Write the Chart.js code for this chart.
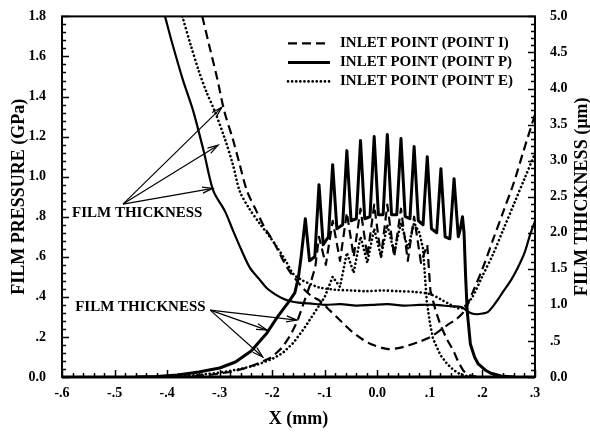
<!DOCTYPE html>
<html>
<head>
<meta charset="utf-8">
<script src="https://cdn.jsdelivr.net/npm/chart.js@4/dist/chart.umd.min.js"></script>
<style>
  html, body { margin: 0; padding: 0; background: #fff; }
</style>
</head>
<body>
<canvas id="myChart" width="590" height="432"></canvas>
<script>
// film pressure (GPa), left axis
const xPressI = [-0.40, -0.36, -0.32, -0.28, -0.25, -0.22, -0.20, -0.18, -0.165, -0.152, -0.14, -0.128, -0.118,
  -0.111, -0.098, -0.085, -0.071, -0.058, -0.045, -0.032, -0.019, -0.006, 0.007, 0.019, 0.032, 0.045, 0.058, 0.070, 0.083, 0.095,
  0.101, 0.11, 0.12, 0.132, 0.145, 0.155, 0.164, 0.175, 0.19];
const pressI = [0, 0.003, 0.01, 0.025, 0.045, 0.075, 0.10, 0.15, 0.21, 0.28, 0.37, 0.46, 0.55,
  0.70, 0.56, 0.78, 0.58, 0.82, 0.60, 0.84, 0.60, 0.86, 0.60, 0.86, 0.60, 0.84, 0.58, 0.80, 0.57, 0.66,
  0.43, 0.34, 0.26, 0.19, 0.13, 0.07, 0.03, 0.01, 0];

const xPressP = [-0.46, -0.42, -0.38, -0.34, -0.30, -0.27, -0.24, -0.21, -0.19, -0.17, -0.157, -0.150,
  -0.145, -0.137, -0.129,
  -0.119, -0.111, -0.103,
  -0.093, -0.085, -0.077,
  -0.066, -0.058, -0.050,
  -0.040, -0.032, -0.024,
  -0.014, -0.006, 0.002,
  0.011, 0.019, 0.027,
  0.037, 0.045, 0.053,
  0.062, 0.070, 0.078,
  0.087, 0.095, 0.103,
  0.113, 0.121, 0.129,
  0.138, 0.146, 0.154,
  0.158, 0.162, 0.165, 0.168, 0.171, 0.177, 0.185, 0.192, 0.205, 0.215, 0.235, 0.26];
const pressP = [0, 0.002, 0.01, 0.025, 0.045, 0.075, 0.13, 0.22, 0.30, 0.37, 0.42, 0.50,
  0.60, 0.79, 0.58,
  0.60, 0.96, 0.66,
  0.70, 1.06, 0.74,
  0.76, 1.13, 0.78,
  0.79, 1.18, 0.79,
  0.80, 1.20, 0.81,
  0.81, 1.21, 0.81,
  0.81, 1.19, 0.80,
  0.79, 1.15, 0.78,
  0.76, 1.10, 0.74,
  0.72, 1.04, 0.70,
  0.69, 0.99, 0.70,
  0.74, 0.80, 0.72, 0.50, 0.33, 0.165, 0.10, 0.065, 0.035, 0.02, 0.005, 0];

const xPressE = [-0.42, -0.38, -0.34, -0.30, -0.26, -0.23, -0.20, -0.18, -0.16, -0.14, -0.12, -0.10,
  -0.085, -0.071, -0.058, -0.045, -0.032, -0.019, -0.006, 0.007, 0.019, 0.032, 0.045, 0.058, 0.070,
  0.080, 0.087, 0.094, 0.100, 0.106, 0.120, 0.133, 0.145, 0.157, 0.17, 0.19];
const pressE = [0, 0.003, 0.01, 0.022, 0.04, 0.06, 0.09, 0.12, 0.17, 0.24, 0.32, 0.40,
  0.50, 0.45, 0.62, 0.52, 0.70, 0.57, 0.74, 0.60, 0.76, 0.62, 0.77, 0.64, 0.77,
  0.72, 0.64, 0.38, 0.27, 0.19, 0.11, 0.065, 0.035, 0.015, 0.005, 0];

// film thickness (um), right axis
const xThickI = [-0.333, -0.32, -0.305, -0.291, -0.275, -0.262, -0.248, -0.23, -0.215, -0.198, -0.185, -0.171,
  -0.155, -0.14, -0.125, -0.108, -0.09, -0.07, -0.05, -0.03, -0.01, 0.018, 0.04, 0.06, 0.08, 0.10, 0.12,
  0.135, 0.15, 0.165, 0.18, 0.20, 0.22, 0.24, 0.26, 0.278, 0.30];
const thickI = [5.0, 4.6, 4.15, 3.68, 3.3, 2.95, 2.58, 2.3, 2.08, 1.88, 1.7, 1.51,
  1.35, 1.22, 1.12, 1.05, 0.92, 0.78, 0.64, 0.53, 0.45, 0.39, 0.40, 0.44, 0.49, 0.55, 0.65,
  0.73, 0.80, 0.91, 1.15, 1.5, 1.9, 2.3, 2.7, 3.13, 3.64];

const xThickP = [-0.404, -0.39, -0.37, -0.35, -0.33, -0.312, -0.29, -0.274, -0.258, -0.242, -0.225, -0.21,
  -0.195, -0.18, -0.165, -0.15, -0.13, -0.10, -0.07, -0.04, -0.01, 0.02, 0.05, 0.08, 0.11, 0.14, 0.16,
  0.17, 0.18, 0.19, 0.20, 0.21, 0.22, 0.23, 0.24, 0.255, 0.267, 0.28, 0.291, 0.30];
const thickP = [5.0, 4.62, 4.12, 3.68, 3.12, 2.58, 2.3, 2.02, 1.75, 1.51, 1.36, 1.23,
  1.15, 1.09, 1.05, 1.03, 1.02, 1.0, 1.01, 0.99, 1.0, 1.01, 0.99, 1.0, 1.0, 0.98, 0.97,
  0.92, 0.88, 0.87, 0.88, 0.9, 0.98, 1.08, 1.19, 1.35, 1.51, 1.72, 1.98, 2.16];

const xThickE = [-0.371, -0.355, -0.34, -0.325, -0.309, -0.29, -0.275, -0.262, -0.245, -0.223, -0.205, -0.19,
  -0.175, -0.16, -0.145, -0.128, -0.11, -0.08, -0.05, -0.02, 0.01, 0.04, 0.07, 0.10, 0.12, 0.14, 0.16,
  0.18, 0.20, 0.22, 0.24, 0.26, 0.28, 0.30];
const thickE = [5.0, 4.6, 4.25, 3.95, 3.68, 3.3, 2.95, 2.58, 2.35, 2.12, 1.95, 1.79,
  1.62, 1.43, 1.35, 1.29, 1.24, 1.21, 1.2, 1.19, 1.2, 1.19, 1.18, 1.15, 1.08, 1.0, 0.95,
  1.1, 1.4, 1.7, 2.05, 2.4, 2.75, 3.1];

const legendLabels = ["INLET POINT (POINT I)", "INLET POINT (POINT P)", "INLET POINT (POINT E)"];

const xTickValues = [-0.6, -0.5, -0.4, -0.3, -0.2, -0.1, 0, 0.1, 0.2, 0.3];
const xTickLabels = ["-.6", "-.5", "-.4", "-.3", "-.2", "-.1", "0.0", ".1", ".2", ".3"];
const yTickValues = [0, 0.2, 0.4, 0.6, 0.8, 1.0, 1.2, 1.4, 1.6, 1.8];
const yTickLabels = ["0.0", ".2", ".4", ".6", ".8", "1.0", "1.2", "1.4", "1.6", "1.8"];
const y2TickValues = [0, 0.5, 1, 1.5, 2, 2.5, 3, 3.5, 4, 4.5, 5];
const y2TickLabels = ["0.0", ".5", "1.0", "1.5", "2.0", "2.5", "3.0", "3.5", "4.0", "4.5", "5.0"];

// annotations (data coordinates, mm / GPa)
const noteText = ["FILM THICKNESS", "FILM THICKNESS"];
const noteX = [-0.581, -0.575];
const noteY = [0.818, 0.349];
const arrowFromX = [-0.484, -0.318];
const arrowFromY = [0.863, 0.334];
const arrowTipX = [[-0.296, -0.303, -0.313], [-0.153, -0.210, -0.218]];
const arrowTipY = [[1.346, 1.157, 0.942], [0.284, 0.234, 0.100]];

const FONT = '"Liberation Serif", "Times New Roman", serif';
const DASHED = [9, 5];
const DOTTED = [0.1, 4];

function pts(xs, ys) {
  return xs.map((x, i) => ({ x, y: ys[i] }));
}

function tickLabel(values, labels) {
  return (value) => {
    const i = values.findIndex((v) => Math.abs(v - value) < 1e-9);
    return i >= 0 ? labels[i] : "";
  };
}

function arrow(ctx, x0, y0, x1, y1) {
  ctx.beginPath();
  ctx.moveTo(x0, y0);
  ctx.lineTo(x1, y1);
  ctx.stroke();
  const ang = Math.atan2(y1 - y0, x1 - x0);
  const L = 11, w = 0.28;
  ctx.beginPath();
  ctx.moveTo(x1 - L * Math.cos(ang - w), y1 - L * Math.sin(ang - w));
  ctx.lineTo(x1, y1);
  ctx.lineTo(x1 - L * Math.cos(ang + w), y1 - L * Math.sin(ang + w));
  ctx.stroke();
}

const decorations = {
  id: "decorations",
  afterDatasetsDraw(chart) {
    const { ctx, chartArea: a, scales: { x, y, y2 } } = chart;
    ctx.save();
    ctx.strokeStyle = "#000";
    ctx.fillStyle = "#000";
    ctx.setLineDash([]);

    // frame
    ctx.lineWidth = 2;
    ctx.strokeRect(a.left, a.top, a.right - a.left, a.bottom - a.top);
    ctx.lineWidth = 3;
    ctx.beginPath();
    ctx.moveTo(a.left, a.bottom);
    ctx.lineTo(a.right, a.bottom);
    ctx.stroke();

    // inward ticks
    ctx.lineWidth = 1.5;
    ctx.beginPath();
    for (let i = 0; i <= 45; i++) {
      const py = Math.round(y.getPixelForValue(i * 0.04)) + 0.5;
      const len = i % 5 === 0 ? 7 : 4;
      ctx.moveTo(a.left, py);
      ctx.lineTo(a.left + len, py);
    }
    for (let i = 0; i <= 50; i++) {
      const py = Math.round(y2.getPixelForValue(i * 0.1)) + 0.5;
      const len = i % 5 === 0 ? 7 : 4;
      ctx.moveTo(a.right, py);
      ctx.lineTo(a.right - len, py);
    }
    for (let i = 0; i <= 45; i++) {
      const px = Math.round(x.getPixelForValue(-0.6 + i * 0.02)) + 0.5;
      const len = i % 5 === 0 ? 7 : 4;
      ctx.moveTo(px, a.bottom);
      ctx.lineTo(px, a.bottom - len);
    }
    ctx.stroke();

    // annotations
    ctx.font = "bold 15px " + FONT;
    ctx.textBaseline = "middle";
    ctx.textAlign = "left";
    ctx.lineWidth = 1.2;
    noteText.forEach((t, k) => {
      ctx.fillText(t, x.getPixelForValue(noteX[k]), y.getPixelForValue(noteY[k]));
      const fx = x.getPixelForValue(arrowFromX[k]);
      const fy = y.getPixelForValue(arrowFromY[k]);
      arrowTipX[k].forEach((tx, j) => {
        arrow(ctx, fx, fy, x.getPixelForValue(tx), y.getPixelForValue(arrowTipY[k][j]));
      });
    });

    // legend
    const lx = a.left + 226, ly = a.top + 27, row = 19;
    [0, 1, 2].forEach((i) => {
      const ds = chart.data.datasets[i];
      const ry = ly + i * row;
      ctx.setLineDash(ds.borderDash || []);
      ctx.lineCap = ds.borderCapStyle || "butt";
      ctx.lineWidth = ds.borderWidth;
      ctx.beginPath();
      ctx.moveTo(lx, ry);
      ctx.lineTo(lx + 42, ry);
      ctx.stroke();
      ctx.setLineDash([]);
      ctx.lineCap = "butt";
      ctx.fillText(ds.label, lx + 52, ry);
    });

    // axis titles
    ctx.font = "bold 18px " + FONT;
    ctx.textAlign = "center";
    const cy = (a.top + a.bottom) / 2;
    ctx.save();
    ctx.translate(19, cy);
    ctx.rotate(-Math.PI / 2);
    ctx.fillText("FILM PRESSURE (GPa)", 0, 0);
    ctx.restore();
    ctx.save();
    ctx.translate(582, cy);
    ctx.rotate(-Math.PI / 2);
    ctx.fillText("FILM THICKNESS (\u00b5m)", 0, 0);
    ctx.restore();
    ctx.fillText("X (mm)", (a.left + a.right) / 2, 419);

    ctx.restore();
  },
};

function line(label, xs, ys, axis, dash, width, tension) {
  return {
    label,
    data: pts(xs, ys),
    yAxisID: axis,
    borderColor: "#000",
    borderWidth: width,
    borderDash: dash,
    borderCapStyle: dash === DOTTED ? "round" : "butt",
    borderJoinStyle: "round",
    pointRadius: 0,
    tension,
    fill: false,
  };
}

const tickFont = { family: FONT, size: 14, weight: "bold" };

new Chart(document.getElementById("myChart"), {
  type: "line",
  data: {
    datasets: [
      line(legendLabels[0], xPressI, pressI, "y", DASHED, 2.2, 0),
      line(legendLabels[1], xPressP, pressP, "y", [], 3, 0),
      line(legendLabels[2], xPressE, pressE, "y", DOTTED, 2.6, 0),
      line("thickness I", xThickI, thickI, "y2", DASHED, 2.2, 0.3),
      line("thickness P", xThickP, thickP, "y2", [], 2.2, 0.3),
      line("thickness E", xThickE, thickE, "y2", DOTTED, 2.6, 0.3),
    ],
  },
  options: {
    responsive: false,
    animation: false,
    layout: { padding: { top: 16, left: 0, right: 0, bottom: 0 } },
    plugins: { legend: { display: false }, tooltip: { enabled: false } },
    scales: {
      x: {
        type: "linear",
        min: -0.6,
        max: 0.3,
        grid: { display: false },
        border: { display: false },
        afterBuildTicks: (s) => { s.ticks = xTickValues.map((v) => ({ value: v })); },
        afterFit: (s) => { s.height = 55; },
        ticks: {
          color: "#000",
          font: tickFont,
          padding: 0,
          maxRotation: 0,
          autoSkip: false,
          callback: tickLabel(xTickValues, xTickLabels),
        },
      },
      y: {
        type: "linear",
        position: "left",
        min: 0,
        max: 1.8,
        grid: { display: false },
        border: { display: false },
        afterBuildTicks: (s) => { s.ticks = yTickValues.map((v) => ({ value: v })); },
        afterFit: (s) => { s.width = 62; },
        ticks: {
          color: "#000",
          font: tickFont,
          padding: 8,
          autoSkip: false,
          callback: tickLabel(yTickValues, yTickLabels),
        },
      },
      y2: {
        type: "linear",
        position: "right",
        min: 0,
        max: 5,
        grid: { display: false },
        border: { display: false },
        afterBuildTicks: (s) => { s.ticks = y2TickValues.map((v) => ({ value: v })); },
        afterFit: (s) => { s.width = 55; },
        ticks: {
          color: "#000",
          font: tickFont,
          padding: 7,
          autoSkip: false,
          callback: tickLabel(y2TickValues, y2TickLabels),
        },
      },
    },
  },
  plugins: [decorations],
});
</script>
</body>
</html>
